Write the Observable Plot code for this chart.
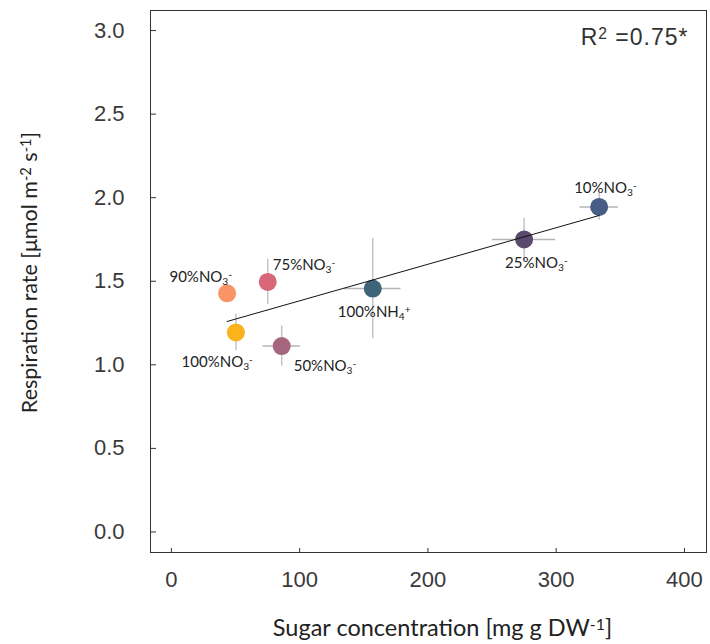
<!DOCTYPE html>
<html>
<head>
<meta charset="utf-8">
<script src="https://cdn.jsdelivr.net/npm/d3@7"></script>
<script src="https://cdn.jsdelivr.net/npm/@observablehq/plot@0.6"></script>
<style>
  html, body { margin: 0; padding: 0; background: #fff; }
  #chart { width: 710px; height: 644px; }
</style>
</head>
<body>
<div id="chart"></div>
<script>
// ---- data ----
const treatments = ["90%NO_{3}^{-}", "75%NO_{3}^{-}", "100%NO_{3}^{-}", "50%NO_{3}^{-}", "100%NH_{4}^{+}", "25%NO_{3}^{-}", "10%NO_{3}^{-}"];
const sugar = [43.4, 75.1, 50.3, 86.0, 157.0, 275.0, 333.5];
const sugarErr = [0, 0, 0, 14.5, 22, 24.6, 15];
const respiration = [1.428, 1.496, 1.194, 1.112, 1.456, 1.750, 1.945];
const respirationErr = [0, 0.135, 0.11, 0.12, 0.30, 0.126, 0.08];
const xTicks = [0, 100, 200, 300, 400];
const yTicks = [0, 0.5, 1, 1.5, 2, 2.5, 3];
const r2Text = "R^{2} =0.75*";
const xTitle = "Sugar concentration [mg g DW^{-1}]";
const yTitle = "Respiration rate [μmol m^{-2} s^{-1}]";

// ---- styles (kept apart from the data) ----
const pointColors = ["#FA9467", "#D86879", "#FBB31B", "#A4657D", "#3E6479", "#5A4A6D", "#475D85"];
const labelPlacement = [
  {anchor: "end", dx: 5, dy: -16},
  {anchor: "start", dx: 5, dy: -17},
  {anchor: "end", dx: 17, dy: 30},
  {anchor: "start", dx: 12, dy: 20},
  {anchor: "start", dx: -35, dy: 24},
  {anchor: "start", dx: -19, dy: 24},
  {anchor: "start", dx: -25, dy: -19}
];

const rows = treatments.map((t, i) => ({
  name: t, x: sugar[i], y: respiration[i], xe: sugarErr[i], ye: respirationErr[i], color: pointColors[i]
}));

const labelFont = "Lato, 'Open Sans', sans-serif";
const numFont = "'Liberation Sans', Arial, sans-serif";

const chart = Plot.plot({
  width: 710,
  height: 644,
  marginLeft: 150,
  marginRight: 4,
  marginTop: 10,
  marginBottom: 92,
  style: {background: "#fff", color: "#3a3a3a"},
  x: {domain: [-16.3, 417.2], label: null},
  y: {domain: [-0.123, 3.12], label: null},
  marks: [
    Plot.frame({stroke: "#333", strokeWidth: 1}),
    Plot.ruleX(xTicks, {insetTop: 538, stroke: "#333"}),
    Plot.ruleY(yTicks, {insetRight: 550, stroke: "#333"}),
    Plot.axisX({ticks: xTicks, tickSize: 0, tickPadding: 19, fontSize: 22, fontFamily: numFont, fill: "#3a3a3a", label: null, tickFormat: d3.format("d")}),
    Plot.axisY({ticks: yTicks, tickSize: 0, tickPadding: 26, fontSize: 22, fontFamily: numFont, fill: "#3a3a3a", label: null, tickFormat: d3.format(".1f")}),
    // error bars
    Plot.ruleY(rows.filter(d => d.xe > 0), {y: "y", x1: d => d.x - d.xe, x2: d => d.x + d.xe, stroke: "#b5b5b5", strokeWidth: 1.5}),
    Plot.ruleX(rows.filter(d => d.ye > 0), {x: "x", y1: d => d.y - d.ye, y2: d => d.y + d.ye, stroke: "#c4c4c4", strokeWidth: 1.5}),
    // points
    Plot.dot(rows, {x: "x", y: "y", r: 9, fill: "color", stroke: null}),
    // regression line
    Plot.linearRegressionY(rows, {x: "x", y: "y", stroke: "#111", strokeWidth: 1, ci: 0}),
    // labels
    ...rows.map((d, i) => Plot.text([d], {
      x: "x", y: "y", text: "name",
      textAnchor: labelPlacement[i].anchor, dx: labelPlacement[i].dx, dy: labelPlacement[i].dy,
      fontSize: 15, fontFamily: labelFont, fill: "#222"
    })),
    // R^2 annotation
    Plot.text([r2Text], {frameAnchor: "top-right", textAnchor: "end", lineAnchor: "middle", dx: -18, dy: 27, fontSize: 23, fontFamily: numFont, fill: "#333"}),
    // axis titles
    Plot.text([xTitle], {frameAnchor: "bottom", textAnchor: "middle", lineAnchor: "middle", dx: 14, dy: 76, fontSize: 23.5, fontFamily: labelFont, fill: "#222"}),
    Plot.text([yTitle], {frameAnchor: "left", textAnchor: "middle", lineAnchor: "middle", rotate: -90, dx: -120, dy: -9, fontSize: 21.5, fontFamily: labelFont, fill: "#222"})
  ]
});

// turn _{..} and ^{..} markup into real sub/superscript tspans
const NS = "http://www.w3.org/2000/svg";
d3.select(chart).selectAll("text").each(function () {
  const t = this.textContent;
  if (!/[_^]\{/.test(t)) return;
  if (t === r2Text) this.setAttribute("letter-spacing", "1px");
  const parts = t.split(/([_^]\{[^}]*\})/);
  while (this.firstChild) this.removeChild(this.firstChild);
  for (const p of parts) {
    if (!p) continue;
    const ts = document.createElementNS(NS, "tspan");
    if (p[0] === "_" && p[1] === "{") {
      ts.setAttribute("baseline-shift", "-0.25em");
      ts.setAttribute("font-size", "0.68em");
      ts.textContent = p.slice(2, -1);
    } else if (p[0] === "^" && p[1] === "{") {
      ts.setAttribute("baseline-shift", "0.4em");
      ts.setAttribute("font-size", "0.68em");
      ts.textContent = p.slice(2, -1);
    } else {
      ts.textContent = p;
    }
    this.appendChild(ts);
  }
});

document.getElementById("chart").appendChild(chart);
</script>
</body>
</html>
